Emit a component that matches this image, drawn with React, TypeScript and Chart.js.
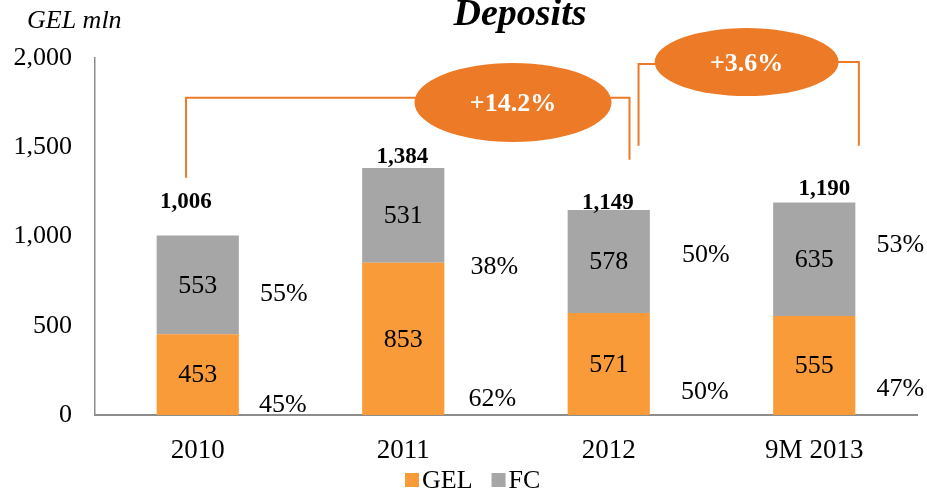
import React, { useEffect, useRef } from "react";
import { Chart, registerables } from "chart.js";

Chart.register(...registerables);

// ---- data ----
const categories = ["2010", "2011", "2012", "9M 2013"];
const gelValues = [453, 853, 571, 555];
const fcValues = [553, 531, 578, 635];
const totals = [1006, 1384, 1149, 1190];
const fcShares = ["55%", "38%", "50%", "53%"];
const gelShares = ["45%", "62%", "50%", "47%"];
const growthLabels = ["+14.2%", "+3.6%"];
const yTickValues = [0, 500, 1000, 1500, 2000];
const seriesNames = ["GEL", "FC"];

// ---- layout / styling (not data) ----
const FONT = '"Liberation Serif", "Times New Roman", serif';
const GEL_COLOR = "#F99B38";
const FC_COLOR = "#A6A6A6";
const ACCENT = "#EC7A26";
const AXIS_COLOR = "#8C8C8C";
const totalShift = [
  { dx: -12, dy: -33 },
  { dx: -1, dy: -11 },
  { dx: -1, dy: -7 },
  { dx: 10, dy: -14 },
];
const fcShareAnchor = [675, 826, 893, 954];
const gelShareAnchor = [54, 88, 127, 144];
const fcShareDx = [86, 91, 97, 86];
const gelShareDx = [85, 89, 96, 86];

function fmt(n: number): string {
  const s = String(Math.round(n));
  return s.replace(/\B(?=(\d{3})+(?!\d))/g, ",");
}

const overlayPlugin = {
  id: "overlay",
  afterDatasetsDraw(chart: any) {
    const ctx: CanvasRenderingContext2D = chart.ctx;
    const xs = chart.scales.x;
    const ys = chart.scales.y;
    const x0 = xs.getPixelForValue(0);
    const step = xs.getPixelForValue(1) - x0;
    const cx = (c: number) => x0 + c * step;
    const cy = (v: number) => ys.getPixelForValue(v);

    const gelMeta = chart.getDatasetMeta(0);
    const fcMeta = chart.getDatasetMeta(1);

    ctx.save();
    // in-bar labels
    ctx.fillStyle = "#000";
    ctx.textAlign = "center";
    ctx.textBaseline = "middle";
    ctx.font = `26px ${FONT}`;
    [gelMeta, fcMeta].forEach((meta: any, di: number) => {
      const vals = di === 0 ? gelValues : fcValues;
      meta.data.forEach((bar: any, i: number) => {
        const props = bar.getProps(["x", "y", "base"], true);
        ctx.fillText(String(vals[i]), props.x, (props.y + props.base) / 2 + 1);
      });
    });

    // totals
    ctx.font = `bold 23px ${FONT}`;
    fcMeta.data.forEach((bar: any, i: number) => {
      const p = bar.getProps(["x", "y"], true);
      ctx.fillText(fmt(totals[i]), p.x + totalShift[i].dx, p.y + totalShift[i].dy);
    });

    // shares
    ctx.font = `26px ${FONT}`;
    fcMeta.data.forEach((bar: any, i: number) => {
      const p = bar.getProps(["x"], true);
      ctx.fillText(fcShares[i], p.x + fcShareDx[i], cy(fcShareAnchor[i]));
      ctx.fillText(gelShares[i], p.x + gelShareDx[i], cy(gelShareAnchor[i]));
    });

    // growth brackets
    ctx.strokeStyle = ACCENT;
    ctx.lineWidth = 2;
    const poly = (pts: number[][]) => {
      ctx.beginPath();
      pts.forEach(([c, v], k) => {
        const px = cx(c);
        const py = cy(v);
        if (k === 0) ctx.moveTo(px, py);
        else ctx.lineTo(px, py);
      });
      ctx.stroke();
    };
    poly([
      [-0.057, 1329],
      [-0.057, 1778],
      [2.101, 1778],
      [2.101, 1430],
    ]);
    poly([
      [2.145, 1508],
      [2.145, 1966],
      [2.671, 1966],
    ]);
    poly([
      [2.671, 1977],
      [3.217, 1977],
      [3.217, 1508],
    ]);

    const ellipse = (c: number, v: number, rx: number, ry: number, text: string) => {
      const px = cx(c);
      const py = cy(v);
      ctx.beginPath();
      ctx.ellipse(px, py, rx, ry, 0, 0, Math.PI * 2);
      ctx.fillStyle = ACCENT;
      ctx.fill();
      ctx.fillStyle = "#fff";
      ctx.font = `bold 26px ${FONT}`;
      ctx.textAlign = "center";
      ctx.textBaseline = "middle";
      ctx.fillText(text, px, py + 2);
    };
    ellipse(1.534, 1751, 98.5, 39.5, growthLabels[0]);
    ellipse(2.671, 1977, 92, 34, growthLabels[1]);

    ctx.restore();
  },
  afterDraw(chart: any) {
    const ctx: CanvasRenderingContext2D = chart.ctx;
    ctx.save();
    ctx.fillStyle = "#000";
    // title
    ctx.font = `italic bold 38px ${FONT}`;
    ctx.textAlign = "center";
    ctx.textBaseline = "alphabetic";
    ctx.fillText("Deposits", 520, 25);
    // unit
    ctx.font = `italic 26px ${FONT}`;
    ctx.textAlign = "left";
    ctx.fillText("GEL mln", 27, 28);

    // legend
    ctx.font = `26px ${FONT}`;
    ctx.textBaseline = "middle";
    let x = 405;
    const yMid = 480;
    chart.data.datasets.forEach((ds: any, i: number) => {
      ctx.fillStyle = ds.backgroundColor;
      ctx.fillRect(x, yMid - 7, 14, 14);
      x += 17;
      ctx.fillStyle = "#000";
      ctx.fillText(ds.label, x, yMid + 1);
      x += ctx.measureText(ds.label).width + (i === 0 ? 19 : 0);
    });
    ctx.restore();
  },
};

export default function App() {
  const ref = useRef<HTMLCanvasElement | null>(null);
  useEffect(() => {
    if (!ref.current) return;
    const chart = new Chart(ref.current, {
      type: "bar",
      data: {
        labels: categories,
        datasets: [
          {
            label: seriesNames[0],
            data: gelValues,
            backgroundColor: GEL_COLOR,
            barPercentage: 0.4,
            categoryPercentage: 1,
          },
          {
            label: seriesNames[1],
            data: fcValues,
            backgroundColor: FC_COLOR,
            barPercentage: 0.4,
            categoryPercentage: 1,
          },
        ],
      },
      options: {
        animation: false,
        responsive: false,
        maintainAspectRatio: false,
        layout: { padding: { top: 58, right: 10, left: 0, bottom: 0 } },
        plugins: {
          legend: { display: false },
          title: { display: false },
          tooltip: { enabled: false },
        },
        scales: {
          x: {
            stacked: true,
            grid: { display: false, drawTicks: false },
            border: { display: true, color: AXIS_COLOR, width: 2 },
            ticks: { font: { family: FONT, size: 27 }, color: "#000", padding: 20 },
            afterFit: (s: any) => {
              s.height = 76;
            },
          },
          y: {
            stacked: true,
            min: 0,
            max: 2000,
            afterBuildTicks: (s: any) => {
              s.ticks = yTickValues.map((v) => ({ value: v }));
            },
            grid: { display: false, drawTicks: false },
            border: { display: true, color: AXIS_COLOR, width: 1.5 },
            ticks: {
              font: { family: FONT, size: 26 },
              color: "#000",
              padding: 23,
              callback: (v: any) => fmt(Number(v)),
            },
            afterFit: (s: any) => {
              s.width = 95;
            },
          },
        },
      } as any,
      plugins: [overlayPlugin],
    });
    return () => chart.destroy();
  }, []);
  return (
    <div style={{ position: "absolute", left: 0, top: 0, width: 927, height: 491, background: "#fff" }}>
      <canvas ref={ref} width={927} height={491} />
    </div>
  );
}
